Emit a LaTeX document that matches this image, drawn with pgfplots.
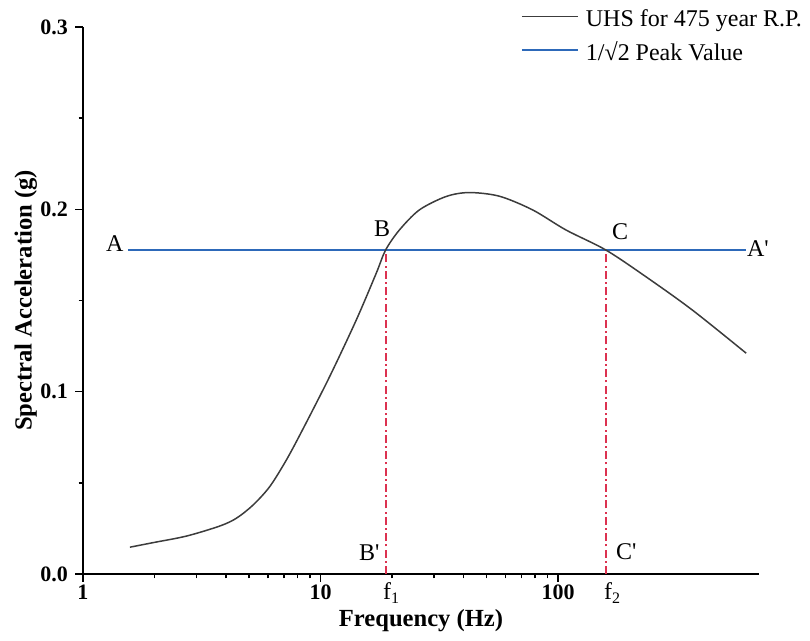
\documentclass[border=0pt]{standalone}
\usepackage{fontspec}
\setmainfont{Liberation Serif}
\usepackage{pgfplots}
\pgfplotsset{compat=1.18}
\definecolor{curvegray}{RGB}{60,60,60}
\definecolor{lineblue}{RGB}{45,105,185}
\definecolor{dashred}{RGB}{220,50,80}
\begin{document}
\begin{tikzpicture}
\useasboundingbox (-41.5pt,-33.5pt) rectangle (363.5pt,287pt);
\begin{axis}[
  at={(0,0)}, anchor=south west,
  scale only axis, width=338pt, height=273.5pt,
  xmode=log, xmin=1, xmax=700, ymin=0, ymax=0.3,
  axis x line=bottom, axis y line=left,
  axis line style={-, line width=1pt},
  tick align=outside, major tick length=4pt, minor tick length=2.2pt,
  every tick/.style={line width=0.8pt, black},
  xtick={1,10,100}, xticklabels={1,10,100},
  ytick={0,0.1,0.2,0.3}, yticklabels={0.0,0.1,0.2,0.3},
  minor ytick={0.05,0.15,0.25},
  tick label style={font=\bfseries\fontsize{11}{13}\selectfont},
  xticklabel style={yshift=2pt},
  xlabel={Frequency (Hz)}, ylabel={Spectral Acceleration (g)},
  every axis x label/.style={at={(axis description cs:0.5,-0.0969)}, anchor=base, font=\bfseries\fontsize{12.3}{14}\selectfont},
  every axis y label/.style={at={(axis description cs:-0.076,0.5)}, rotate=90, anchor=base, font=\bfseries\fontsize{12.3}{14}\selectfont},
  legend style={
    at={(rel axis cs:0.6475,1.0342)}, anchor=north west,
    draw=none, fill=none, inner sep=0pt, outer sep=0pt,
    font=\fontsize{12}{14}\selectfont,
    row sep=5pt, column sep=3.5pt,
    nodes={inner sep=0pt, text height=9pt, text depth=3pt},
  },
  legend cell align=left,
  legend image code/.code={\draw[#1] (0pt,2pt) -- (28pt,2pt);},
  clip=false,
]
\addplot[draw=dashred, line width=1pt, dash pattern=on 4pt off 1.6pt on 1pt off 1.6pt, forget plot] coordinates {(18.85,0) (18.85,0.178)};
\addplot[draw=dashred, line width=1pt, dash pattern=on 4pt off 1.6pt on 1pt off 1.6pt, forget plot] coordinates {(158.6,0) (158.6,0.178)};
\addplot[draw=lineblue, line width=1.1pt, forget plot] coordinates {(1.55,0.1778) (615,0.1778)};
\addplot[draw=curvegray, line width=0.75pt, smooth] coordinates {
(1.576,0.0147) (1.974,0.0172) (2.727,0.0208) (3.764,0.0263) (4.424,0.0306)
(5.194,0.0378) (6.107,0.0479) (7.176,0.0625) (8.427,0.0795) (10.91,0.1082)
(14.13,0.1393) (17.14,0.1649) (18.78,0.1777) (21.47,0.1887) (26.06,0.1997)
(33.7,0.2070) (42.1,0.2092) (56.5,0.2072) (78.0,0.1997) (107.7,0.1887)
(158.6,0.1777) (233.5,0.1631) (366.6,0.1448) (618,0.1211)};
\addlegendentry{UHS for 475 year R.P.}
\addlegendimage{draw=lineblue, line width=1.1pt}
\addlegendentry{1/√2 Peak Value}
\tikzset{lab/.style={font=\fontsize{12}{14}\selectfont, inner sep=0pt}}
\node[lab, anchor=base east, xshift=-2.2pt, yshift=-0.85pt] at (axis cs:1.55,0.178) {A};
\node[lab, anchor=base west, xshift=0.5pt, yshift=-3.5pt] at (axis cs:615,0.178) {A\textquotesingle};
\node[lab, anchor=base, xshift=-1.75pt, yshift=6.7pt] at (axis cs:18.8,0.178) {B};
\node[lab, anchor=base west, xshift=3pt, yshift=5pt] at (axis cs:158.6,0.178) {C};
\node[lab, anchor=base east, xshift=-3pt, yshift=6.5pt] at (axis cs:18.8,0) {B\textquotesingle};
\node[lab, anchor=base west, xshift=5pt, yshift=7pt] at (axis cs:158.6,0) {C\textquotesingle};
\node[lab, anchor=base west, xshift=-1.5pt, yshift=-13pt] at (axis cs:18.8,0) {f\textsubscript{1}};
\node[lab, anchor=base west, xshift=-1pt, yshift=-13pt] at (axis cs:158.6,0) {f\textsubscript{2}};
\end{axis}
\end{tikzpicture}
\end{document}
